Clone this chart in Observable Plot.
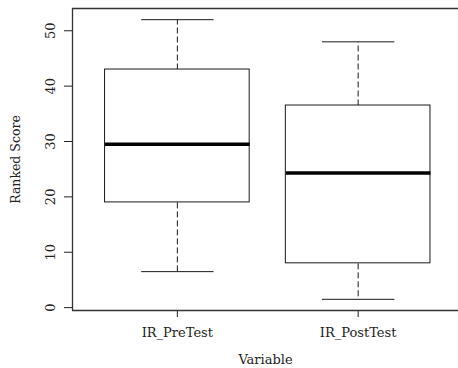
<!DOCTYPE html>
<html>
<head>
<meta charset="utf-8">
<script src="https://cdn.jsdelivr.net/npm/d3@7"></script>
<script src="https://cdn.jsdelivr.net/npm/@observablehq/plot@0.6"></script>
<style>
  html, body { margin: 0; padding: 0; background: #fff; }
  svg { display: block; }
</style>
</head>
<body>
<div id="chart"></div>
<script>
const categories = ["IR_PreTest", "IR_PostTest"];
const whiskerLow = [6.5, 1.5];
const q1 = [19, 8];
const medians = [29.5, 24.3];
const q3 = [43, 36.5];
const whiskerHigh = [52, 48];
const yTicks = [0, 10, 20, 30, 40, 50];

const boxes = categories.map((c, i) => ({
  name: c, pos: i + 1,
  lo: whiskerLow[i], q1: q1[i], med: medians[i], q3: q3[i], hi: whiskerHigh[i]
}));

const yMin = -0.52, yMax = 54.02;
const xMin = 0.42, xMax = 2.555;
const ink = "#1a1a1a";
const font = "DejaVu Serif";

const chart = Plot.plot({
  width: 458,
  height: 368,
  marginLeft: 72,
  marginRight: 0,
  marginTop: 8,
  marginBottom: 58,
  style: { fontFamily: font, fontSize: "13px", color: "#222", background: "#fff" },
  x: {
    type: "linear",
    domain: [xMin, xMax],
    ticks: [1, 2],
    tickFormat: d => categories[d - 1],
    tickSize: 7,
    tickPadding: 10,
    label: null
  },
  y: {
    domain: [yMin, yMax],
    ticks: yTicks,
    tickSize: 8,
    tickRotate: -90,
    tickPadding: 10,
    label: null
  },
  marks: [
    // whiskers
    Plot.link(boxes, { x1: "pos", x2: "pos", y1: "q3", y2: "hi", stroke: ink, strokeWidth: 1, strokeDasharray: "6,3" }),
    Plot.link(boxes, { x1: "pos", x2: "pos", y1: "q1", y2: "lo", stroke: ink, strokeWidth: 1, strokeDasharray: "6,3" }),
    // caps
    Plot.link(boxes, { x1: d => d.pos - 0.2, x2: d => d.pos + 0.2, y1: "hi", y2: "hi", stroke: ink, strokeWidth: 1 }),
    Plot.link(boxes, { x1: d => d.pos - 0.2, x2: d => d.pos + 0.2, y1: "lo", y2: "lo", stroke: ink, strokeWidth: 1 }),
    // boxes
    Plot.rect(boxes, { x1: d => d.pos - 0.4, x2: d => d.pos + 0.4, y1: "q1", y2: "q3", fill: "white", stroke: ink, strokeWidth: 1 }),
    // medians
    Plot.link(boxes, { x1: d => d.pos - 0.4, x2: d => d.pos + 0.4, y1: "med", y2: "med", stroke: "#000", strokeWidth: 3.5 }),
    // frame (left, top, bottom)
    Plot.ruleX([xMin], { y1: yMin, y2: yMax, stroke: "#333", strokeWidth: 1.3 }),
    Plot.ruleY([yMin, yMax], { x1: xMin, x2: xMax, stroke: "#333", strokeWidth: 1.3 }),
    // axis titles
    Plot.text(["Variable"], { frameAnchor: "bottom", dy: 53, textAnchor: "middle", fill: "#222" }),
    Plot.text(["Ranked Score"], { frameAnchor: "left", dx: -57, rotate: -90, textAnchor: "middle", fontSize: 12.5, fill: "#222" })
  ]
});

document.getElementById("chart").appendChild(chart);
</script>
</body>
</html>
